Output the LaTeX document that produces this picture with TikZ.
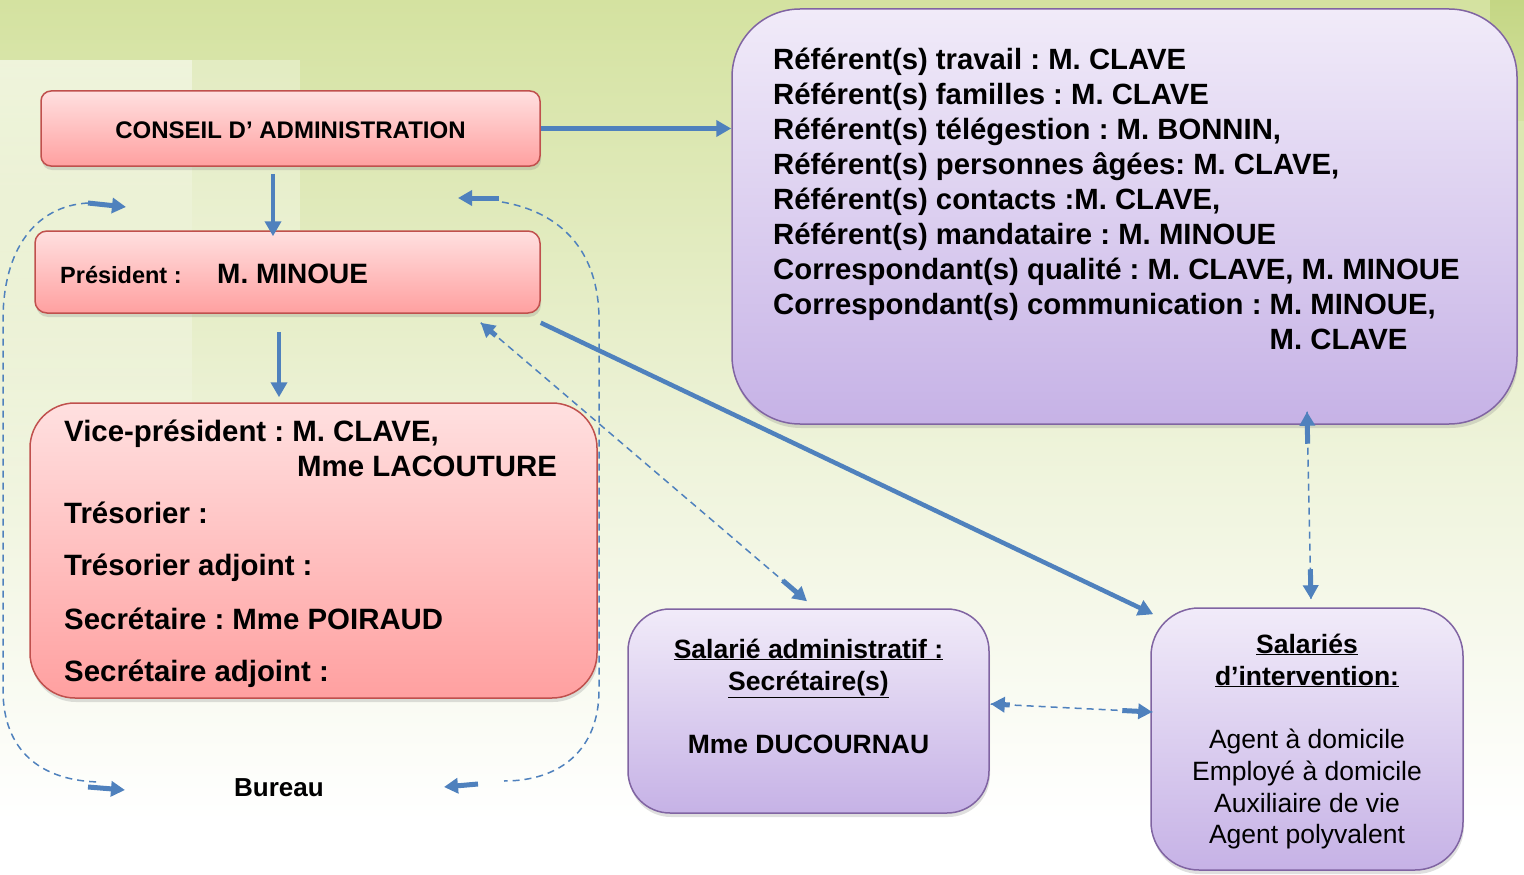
\documentclass[tikz,border=0pt]{standalone}
\usepackage{fontspec}
\setmainfont{Liberation Sans}
\frenchspacing
\usetikzlibrary{arrows.meta,shadows,calc,fadings}

\definecolor{lienbleu}{RGB}{79,129,189}
\definecolor{rougebord}{RGB}{192,80,77}
\definecolor{rougehaut}{RGB}{255,224,224}
\definecolor{rougebas}{RGB}{255,160,160}
\definecolor{violetbord}{RGB}{128,100,162}
\definecolor{violethaut}{RGB}{241,235,249}
\definecolor{violetbas}{RGB}{198,178,230}
\definecolor{fondhaut}{RGB}{212,226,160}
\definecolor{fondmilieu}{RGB}{238,243,218}
\definecolor{fondvert}{RGB}{196,214,132}

\tikzset{
  boite/.style={rectangle, inner sep=0pt, line width=1.5pt,
    drop shadow={opacity=0.25, shadow xshift=1pt, shadow yshift=-4pt}},
  boiterouge/.style={boite, draw=rougebord, top color=rougehaut, bottom color=rougebas},
  boiteviolet/.style={boite, draw=violetbord, top color=violethaut, bottom color=violetbas},
  fleche/.style={lienbleu, line width=4.5pt, -{Triangle[length=15pt,width=16pt]}},
  bout/.style={lienbleu, line width=5pt, -{Triangle[length=14pt,width=15pt]}},
  pointille/.style={lienbleu, line width=1.5pt, dash pattern=on 7pt off 5pt},
  texte/.style={inner sep=0pt, anchor=base west, font=\fontsize{29.4}{35}\selectfont\bfseries},
  texteref/.style={texte, font=\fontsize{29.3}{35}\selectfont\bfseries},
  textesal/.style={inner sep=0pt, anchor=base, font=\fontsize{26.5}{32}\selectfont\bfseries},
  textemetier/.style={inner sep=0pt, anchor=base, font=\fontsize{26.5}{32}\selectfont}
}

\begin{document}
\begin{tikzpicture}[x=1pt, y=-1pt]

\useasboundingbox (0,0) rectangle (1524,875);

% fond
\fill[top color=fondhaut, bottom color=fondmilieu] (0,0) rectangle (1524,450);
\fill[top color=fondmilieu, bottom color=white] (0,450) rectangle (1524,820);
\fill[white] (0,820) rectangle (1524,875);
\fill[white, opacity=.6, path fading=south] (0,60) rectangle (192,520);
\fill[white, opacity=.3] (192,60) rectangle (300,230);
\fill[top color=fondvert, bottom color=fondhaut] (1490,0) rectangle (1524,120);

% boites
\node[boiterouge, rounded corners=10pt, minimum width=499pt, minimum height=75pt] (ca) at (290.5,128.5) {};
\node[boiterouge, rounded corners=12pt, minimum width=505pt, minimum height=82pt] (pres) at (287.5,272) {};
\node[boiterouge, rounded corners=45pt, minimum width=567pt, minimum height=295pt] (vice) at (313.5,550.5) {};
\node[boiteviolet, rounded corners=68pt, minimum width=785pt, minimum height=415pt] (refs) at (1124.5,216.5) {};
\node[boiteviolet, rounded corners=42pt, minimum width=361pt, minimum height=204pt] (admin) at (808.5,711) {};
\node[boiteviolet, rounded corners=48pt, minimum width=312pt, minimum height=262pt] (interv) at (1307,739) {};

% textes
\node[inner sep=0pt, anchor=base, font=\fontsize{24}{28}\selectfont\bfseries] (tca) at (290.5,138) {CONSEIL D’ ADMINISTRATION};
\node[texte, font=\fontsize{23.5}{28}\selectfont\bfseries] (tpres) at (60,283) {Président :};
\node[texte, font=\fontsize{28}{32}\selectfont\bfseries] (tminoue) at (217,283) {M. MINOUE};

\node[texte] (v1) at (64,441.5) {Vice-président : M. CLAVE,};
\node[texte] (v2) at (297,476.5) {Mme LACOUTURE};
\node[texte] (v3) at (64,523) {Trésorier :};
\node[texte] (v4) at (64,575.5) {Trésorier adjoint :};
\node[texte] (v5) at (64,629) {Secrétaire : Mme POIRAUD};
\node[texte] (v6) at (64,681.5) {Secrétaire adjoint :};

\node[texteref] (r1) at (773,69.5) {Référent(s) travail : M. CLAVE};
\node[texteref] (r2) at (773,104.5) {Référent(s) familles : M. CLAVE};
\node[texteref] (r3) at (773,139.5) {Référent(s) télégestion : M. BONNIN,};
\node[texteref] (r4) at (773,174.5) {Référent(s) personnes âgées: M. CLAVE,};
\node[texteref] (r5) at (773,209.5) {Référent(s) contacts :M. CLAVE,};
\node[texteref] (r6) at (773,244.5) {Référent(s) mandataire : M. MINOUE};
\node[texteref] (r7) at (773,279.5) {Correspondant(s) qualité : M. CLAVE, M. MINOUE};
\node[texteref] (r8) at (773,314.5) {Correspondant(s) communication : M. MINOUE,};
\node[texteref] (r9) at (773,349.5) {\phantom{Correspondant(s) communication : }M. CLAVE};

\node[textesal] (a1) at (808.5,658) {\underline{Salarié administratif :}};
\node[textesal] (a2) at (808.5,690) {\underline{Secrétaire(s)}};
\node[textesal] (a3) at (808.5,753) {Mme DUCOURNAU};

\node[textesal] (i1) at (1307,653) {\underline{Salariés}};
\node[textesal] (i2) at (1307,685) {\underline{d’intervention:}};
\node[textemetier] (i3) at (1307,748) {Agent à domicile};
\node[textemetier] (i4) at (1307,780) {Employé à domicile};
\node[textemetier] (i5) at (1307,812) {Auxiliaire de vie};
\node[textemetier] (i6) at (1307,843) {Agent polyvalent};

\node[textesal, font=\fontsize{26}{30}\selectfont\bfseries] (bureau) at (279,796) {Bureau};

% liens pleins
\draw[fleche] (ca.east) -- (ca.east -| refs.west);
\draw[fleche] ([xshift=-17.5pt,yshift=-7pt]ca.south) -- ([xshift=-14.5pt,yshift=-6pt]pres.north);
\draw[fleche] ([xshift=-8.5pt,yshift=-18pt]pres.south) -- ([xshift=-34.5pt,yshift=5pt]vice.north);
\draw[fleche] ([yshift=-9pt]pres.south east) -- ([xshift=3pt,yshift=-7pt]interv.north west);

% liens pointilles
\coordinate (dh) at ([xshift=-60pt,yshift=-9pt]pres.south east);
\coordinate (db) at ([xshift=-1.5pt,yshift=7pt]admin.north);
\draw[pointille] (dh) -- (db);
\draw[bout] ($(dh)!20pt!(db)$) -- (dh);
\draw[bout] ($(db)!32pt!(dh)$) -- (db);

\coordinate (vh) at ([xshift=182.5pt,yshift=13pt]refs.south);
\coordinate (vb) at ([xshift=4pt,yshift=8pt]interv.north);
\draw[pointille] (vh) -- (vb);
\draw[bout] ($(vh)!32pt!(vb)$) -- (vh);
\draw[bout] ($(vb)!30pt!(vh)$) -- (vb);

\coordinate (hg) at ([xshift=1pt,yshift=7pt]admin.east);
\coordinate (hd) at ([xshift=2pt,yshift=27pt]interv.west);
\draw[pointille] (hg) -- (hd);
\draw[bout] ($(hg)!19pt!(hd)$) -- (hg);
\draw[bout] ($(hd)!30pt!(hg)$) -- (hd);

% bureau
\coordinate (bhg) at (88,203);
\coordinate (bbg) at (100,782);
\coordinate (bhd) at (502,202);
\coordinate (bbd) at (504,781);
\draw[pointille] (bhg) .. controls (35,206) and (3,250) .. (3,320) -- (3,690)
  .. controls (3,750) and (40,781) .. (bbg);
\draw[pointille] (bhd) .. controls (560,212) and (599,250) .. (599,320) -- (599,690)
  .. controls (599,750) and (560,781) .. (bbd);
\draw[bout] (bhg) -- (126,207);
\draw[bout] (88,787) -- (125,790);
\draw[bout] (499,198) -- (458,198);
\draw[bout] (478,784) -- (444,787);

\end{tikzpicture}
\end{document}
